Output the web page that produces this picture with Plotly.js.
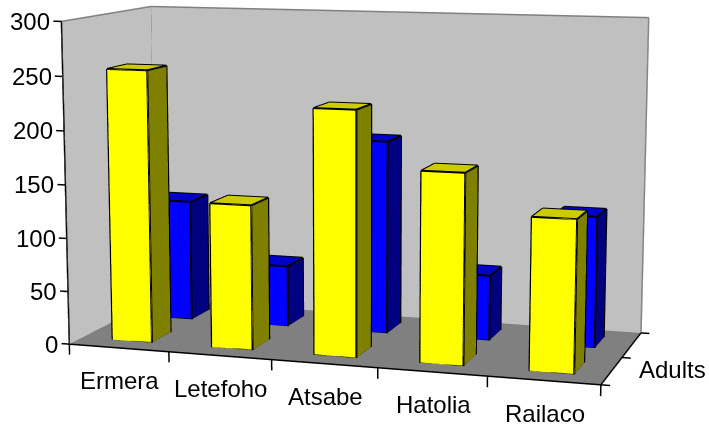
<!DOCTYPE html>
<html><head><meta charset="utf-8"><script src="https://cdn.plot.ly/plotly-3.0.1.min.js"></script>
<style>html,body{margin:0;padding:0;background:#fff;width:709px;height:429px;overflow:hidden}
#c{position:absolute;left:-1036px;top:-627px;width:2781px;height:1683px}</style></head>
<body><div id="c"></div><script>
const categories=["Ermera","Letefoho","Atsabe","Hatolia","Railaco"];
const frontValues=[255,135,226,174,138];
const backValues=[117,59,184,62,123];
const yTicks=[0,50,100,150,200,250,300];
const depthLabels=["Adults"];
const xr=[-0.3,5.3],yr=[-0.2,2.05],zr=[-30,305];
const sx=0.48,sy=0.4935,sz=1.44/300;
const delta={x:((xr[0]+xr[1])/2-2.5)*sx,y:((yr[0]+yr[1])/2-1)*sy,z:((zr[0]+zr[1])/2-150)*sz};
const c0={x:-0.005,y:-0.045,z:-0.144},e0={x:2.671,y:-8.552,z:1.392};
const amb={ambient:1,diffuse:0,specular:0,roughness:1,fresnel:0};
function quad(xs,ys,zs,color){return {type:'mesh3d',x:xs,y:ys,z:zs,i:[0,0],j:[1,2],k:[2,3],facecolor:[color,color],flatshading:true,lighting:amb,hoverinfo:'skip',showscale:false};}
function lines(segs,color,w){const X=[],Y=[],Z=[];segs.forEach(s=>{X.push(s[0],s[3],null);Y.push(s[1],s[4],null);Z.push(s[2],s[5],null);});
 return {type:'scatter3d',mode:'lines',x:X,y:Y,z:Z,line:{color,width:w},hoverinfo:'skip',showlegend:false};}
function box(x0,x1,y0,y1,h,color,side,top){
 const xs=[x0,x1,x1,x0,x0,x1,x1,x0],ys=[y0,y0,y1,y1,y0,y0,y1,y1],zs=[0,0,0,0,h,h,h,h];
 const mesh={type:'mesh3d',x:xs,y:ys,z:zs,i:[0,0,1,1,4,4],j:[1,5,2,6,5,6],k:[5,4,6,5,6,7],facecolor:[color,color,side,side,top,top],flatshading:true,lighting:amb,hoverinfo:'skip',showscale:false};
 const e=[[0,1],[1,2],[4,5],[5,6],[6,7],[7,4],[0,4],[1,5],[2,6]];
 return [mesh,lines(e.map(([a,b])=>[xs[a],ys[a],zs[a],xs[b],ys[b],zs[b]]),'#000',4)];
}
let traces=[
 quad([0,5,5,0],[0,0,2,2],[0,0,0,0],'#808080'),
 quad([0,0,0,0],[0,2,2,0],[0,0,300,300],'#c0c0c0'),
 quad([0,5,5,0],[2,2,2,2],[0,0,300,300],'#c0c0c0'),
 lines([[0,0,300,0,2,300],[0,2,300,5,2,300],[5,2,300,5,2,0],[0,2,300,0,2,0]],'#808080',3),
 lines([[0,0,0,0,0,300],[0,0,0,5,0,0],[5,0,0,5,2,0]],'#000',3),
 lines(yTicks.map(v=>[0,0,v,-0.08,0,v]),'#000',3),
 lines([0,1,2,3,4,5].map(v=>[v,0,0,v,0,-10]),'#000',3),
 lines([0,1,2].map(v=>[5,v,0,5.08,v,0]),'#000',3)
];
const gx=0.30,gy=0.28,oxFront=0.01,oxBack=-0.005;
categories.forEach((c,i)=>{ traces.push(...box(i+gx+oxBack,i+1-gx+oxBack,1+gy,2-gy,backValues[i],'#0000ff','#000080','#0000cc')); });
categories.forEach((c,i)=>{ traces.push(...box(i+gx+oxFront,i+1-gx+oxFront,gy,1-gy,frontValues[i],'#ffff00','#808000','#cccc00')); });
const ax=(r)=>({range:r,title:{text:''},showgrid:false,zeroline:false,showline:false,showticklabels:false,ticks:'',showbackground:false,showspikes:false,showaxeslabels:false,autorange:false});
const ann=[];
yTicks.forEach(v=>ann.push({x:0,y:0,z:v,text:String(v),showarrow:false,xanchor:'right',yanchor:'middle',xshift:-9,yshift:0}));
categories.forEach((c,i)=>ann.push({x:i+0.5,y:0,z:0,text:c,showarrow:false,xanchor:'center',yanchor:'middle',xshift:1,yshift:-33}));
depthLabels.forEach(t=>ann.push({x:5,y:1.5,z:0,text:t,showarrow:false,xanchor:'left',yanchor:'middle',xshift:5,yshift:-25}));
const layout={width:2781,height:1683,autosize:false,margin:{l:0,r:0,t:0,b:0,pad:0},paper_bgcolor:'#fff',showlegend:false,
 font:{family:'Liberation Sans, Arial',size:24,color:'#000'},
 scene:{domain:{x:[0,1],y:[0,1]},aspectmode:'manual',
  aspectratio:{x:(xr[1]-xr[0])*sx,y:(yr[1]-yr[0])*sy,z:(zr[1]-zr[0])*sz},
  camera:{eye:{x:e0.x-delta.x,y:e0.y-delta.y,z:e0.z-delta.z},center:{x:c0.x-delta.x,y:c0.y-delta.y,z:c0.z-delta.z},up:{x:0,y:0,z:1},projection:{type:'perspective'}},
  xaxis:ax(xr),yaxis:ax(yr),zaxis:ax(zr),annotations:ann}};
Plotly.newPlot('c',traces,layout,{displayModeBar:false});
</script></body></html>
